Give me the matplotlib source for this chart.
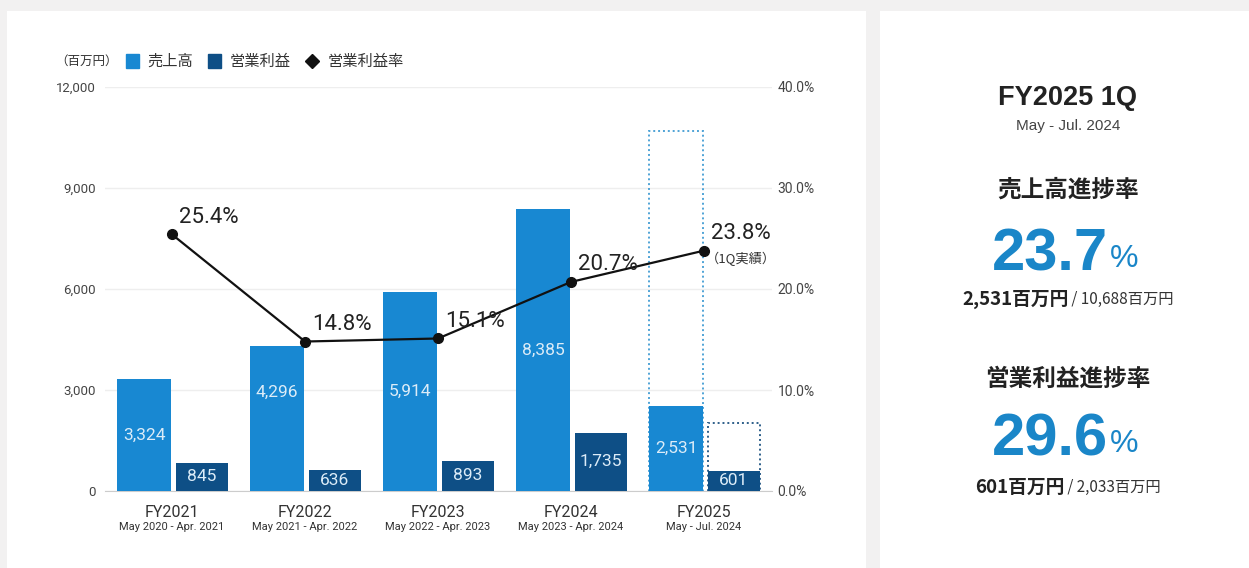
import numpy as np
import matplotlib.pyplot as plt
from matplotlib.patches import Rectangle
from matplotlib.lines import Line2D

plt.rcParams["font.family"] = ["Roboto", "Noto Sans CJK JP", "DejaVu Sans"]

years = ["FY2021", "FY2022", "FY2023", "FY2024", "FY2025"]
periods = ["May 2020 - Apr. 2021", "May 2021 - Apr. 2022", "May 2022 - Apr. 2023",
           "May 2023 - Apr. 2024", "May - Jul. 2024"]
sales = [3324, 4296, 5914, 8385, 2531]
profit = [845, 636, 893, 1735, 601]
margin = [25.4, 14.8, 15.1, 20.7, 23.8]
sales_forecast = 10688
profit_forecast = 2033
sales_progress = 23.7
profit_progress = 29.6

SALES_C = "#1888d2"
PROFIT_C = "#0e4f86"
JP = ["Noto Sans CJK JP", "DejaVu Sans"]
W, H = 1249, 568

fig = plt.figure(figsize=(12.49, 5.68), dpi=100)
fig.patch.set_facecolor("#f2f1f1")

# white cards behind the chart and the summary
for x0, w in [(7, 859), (880, 380)]:
    fig.patches.append(Rectangle((x0 / W, 0), w / W, 1 - 11 / H,
                                 transform=fig.transFigure, facecolor="white",
                                 edgecolor="none", zorder=-5))

ax = fig.add_axes([105 / W, 1 - 491 / H, 667 / W, 404 / H])
ax.set_facecolor("none")
x = np.arange(len(years))
w = 0.405
xs = x - 0.21
xp = x + 0.225

ax.bar(xs, sales, width=w, color=SALES_C, zorder=3)
ax.bar(xp, profit, width=w * 0.97, color=PROFIT_C, zorder=3)

# full-year forecast outlines for the current year
ax.bar(xs[-1], sales_forecast, width=w, facecolor="none", edgecolor="#4fa3d6",
       linestyle=(0, (1, 1.5)), linewidth=1.4, zorder=2)
ax.bar(xp[-1], profit_forecast, width=w * 0.97, facecolor="none", edgecolor="#2e5f8a",
       linestyle=(0, (1, 1.5)), linewidth=1.4, zorder=2)

sales_label_y = [s / 2 for s in sales]
sales_label_y[1] = sales[1] * 0.68
for xi, s, ly in zip(xs, sales, sales_label_y):
    ax.text(xi, ly, f"{s:,}", ha="center", va="center", color="#dcecf8",
            fontsize=12.5, zorder=4)
for xi, p in zip(xp, profit):
    ax.text(xi, p / 2, f"{p:,}", ha="center", va="center", color="#dcecf8",
            fontsize=12.5, zorder=4)

ax.set_ylim(0, 12000)
ax.set_xlim(-0.504, 4.511)
ax.set_yticks(np.arange(0, 12001, 3000))
ax.set_yticklabels([f"{v:,}" for v in range(0, 12001, 3000)])
ax.tick_params(axis="y", length=0, labelsize=9.5, labelcolor="#444444", pad=6.5)
ax.set_xticks(x)
ax.set_xticklabels([])
ax.tick_params(axis="x", length=0)
ax.grid(axis="y", color="#eeeeee", linewidth=1, zorder=0)
for s in ["top", "right", "left"]:
    ax.spines[s].set_visible(False)
ax.spines["bottom"].set_color("#cccccc")

for xi, yr, pr in zip(x, years, periods):
    ax.text(xi, -420, yr, ha="center", va="top", fontsize=11.5, color="#333333")
    ax.text(xi, -930, pr, ha="center", va="top", fontsize=8, color="#333333",
            fontstretch="condensed")

ax2 = ax.twinx()
ax2.set_ylim(0, 40)
ax2.set_yticks(np.arange(0, 41, 10))
ax2.set_yticklabels([f"{v:.1f}%" for v in range(0, 41, 10)])
ax2.tick_params(axis="y", length=0, labelsize=10, labelcolor="#444444", pad=4)
for s in ["top", "right", "left", "bottom"]:
    ax2.spines[s].set_visible(False)
ax2.plot(x, margin, color="#111111", linewidth=1.6, marker="o", markersize=7,
         zorder=5)
for xi, m in zip(x, margin):
    ax2.annotate(f"{m:.1f}%", (xi, m), xytext=(5, 5), textcoords="offset points",
                 ha="left", va="bottom", fontsize=16, color="#222222", zorder=6)
ax2.annotate("（1Q実績）", (x[-1], margin[-1]), xytext=(1, -1), textcoords="offset points",
             ha="left", va="top", fontsize=9.5, color="#333333", family=JP)

# legend row above the plot
ly = 1 - 61 / H
fig.text(55 / W, ly, "（百万円）", fontsize=9, color="#333333", va="center", family=JP)
fig.patches.append(Rectangle((126 / W, ly - 6.5 / H), 13 / W, 13 / H,
                             transform=fig.transFigure, color=SALES_C))
fig.text(147 / W, ly, "売上高", fontsize=11, color="#333333", va="center", family=JP)
fig.patches.append(Rectangle((208 / W, ly - 6.5 / H), 13 / W, 13 / H,
                             transform=fig.transFigure, color=PROFIT_C))
fig.text(230 / W, ly, "営業利益", fontsize=11, color="#333333", va="center", family=JP)
fig.lines.append(Line2D([312 / W], [ly], marker="D", markersize=7, color="#111111",
                        transform=fig.transFigure))
fig.text(328 / W, ly, "営業利益率", fontsize=11, color="#333333", va="center", family=JP)

# summary card on the right
cx = 1068 / W
fig.text(cx, 1 - 98 / H, "FY2025 1Q", ha="center", va="center", fontsize=19.5,
         color="#222222", family="Liberation Sans", fontweight="bold")
fig.text(cx, 1 - 126 / H, "May - Jul. 2024", ha="center", va="center", fontsize=11,
         color="#444444", family="Liberation Sans")

renderer = fig.canvas.get_renderer()


def progress_block(y_title, y_big, y_sub, title, pct, done, plan):
    fig.text(cx, 1 - y_title / H, title, ha="center", va="center", fontsize=17,
             color="#222222", family=JP, fontweight="bold")
    fig.text(cx + 40 / W, 1 - y_big / H, f"{pct:.1f}", ha="right", va="center",
             fontsize=43, color="#1a86c8", family="Liberation Sans",
             fontweight="bold")
    fig.text(cx + 42 / W, 1 - (y_big + 4) / H, "%", ha="left", va="center", fontsize=23,
             color="#1a86c8", family="Liberation Sans")
    # bold actual + regular plan, centred together as one line
    t1 = fig.text(0, 1 - y_sub / H, f"{done:,}百万円", ha="left", va="center",
                  fontsize=13.5, color="#222222", family=JP, fontweight="bold")
    t2 = fig.text(0, 1 - y_sub / H, f" / {plan:,}百万円", ha="left", va="center",
                  fontsize=11, color="#333333", family=JP)
    w1 = t1.get_window_extent(renderer).width
    w2 = t2.get_window_extent(renderer).width
    left = cx * W - (w1 + w2) / 2
    t1.set_x(left / W)
    t2.set_x((left + w1) / W)


progress_block(190, 255, 299, "売上高進捗率", sales_progress, sales[-1], sales_forecast)
progress_block(379, 440, 487, "営業利益進捗率", profit_progress, profit[-1], profit_forecast)

fig.savefig("out.png", dpi=100, facecolor=fig.get_facecolor())
